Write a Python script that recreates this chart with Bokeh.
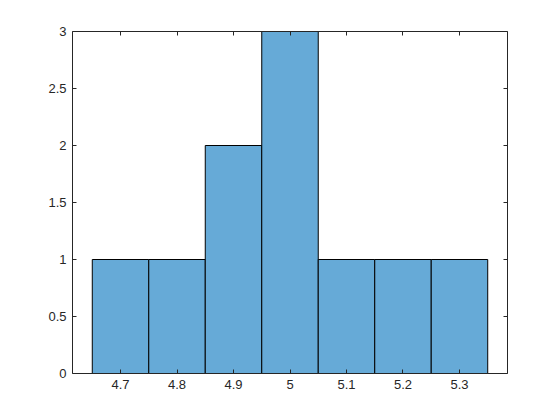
from bokeh.plotting import figure
from bokeh.models import LinearAxis, Range1d, FixedTicker
from bokeh.embed import file_html
from bokeh.resources import INLINE

bin_edges = [4.65, 4.75, 4.85, 4.95, 5.05, 5.15, 5.25, 5.35]
counts = [1, 1, 2, 3, 1, 1, 1]
x_ticks = [4.7, 4.8, 4.9, 5.0, 5.1, 5.2, 5.3]
x_labels = ["4.7", "4.8", "4.9", "5", "5.1", "5.2", "5.3"]
y_ticks = [0, 0.5, 1, 1.5, 2, 2.5, 3]
y_labels = ["0", "0.5", "1", "1.5", "2", "2.5", "3"]

p = figure(width=544, height=404, output_backend="svg", toolbar_location=None,
           x_range=Range1d(4.615, 5.385), y_range=Range1d(0, 3),
           min_border_left=72, min_border_right=37, min_border_top=31, min_border_bottom=31,
           x_axis_location=None, y_axis_location=None)
p.xgrid.visible = False
p.ygrid.visible = False
p.outline_line_color = None
p.background_fill_color = "white"
p.border_fill_color = "white"

p.quad(left=bin_edges[:-1], right=bin_edges[1:], bottom=0, top=counts,
       fill_color="#66AAD7", line_color="black", line_width=1)

ax_col = "#262626"

def style(ax, labels):
    ax.axis_line_color = ax_col
    ax.axis_line_width = 1
    ax.major_tick_line_color = ax_col
    ax.major_tick_in = 4
    ax.major_tick_out = 0
    ax.minor_tick_line_color = None
    ax.major_label_text_font = "Liberation Sans"
    ax.major_label_text_font_size = "13px"
    ax.major_label_text_color = ax_col
    if not labels:
        ax.major_label_text_alpha = 0
        ax.major_label_text_font_size = "1px"
        ax.major_label_standoff = 0

xb = LinearAxis(ticker=FixedTicker(ticks=x_ticks),
                major_label_overrides={t: l for t, l in zip(x_ticks, x_labels)})
style(xb, True)
xb.major_label_standoff = 6
p.add_layout(xb, "below")

xt = LinearAxis(ticker=FixedTicker(ticks=x_ticks))
style(xt, False)
p.add_layout(xt, "above")

yl = LinearAxis(ticker=FixedTicker(ticks=y_ticks),
                major_label_overrides={t: l for t, l in zip(y_ticks, y_labels)})
style(yl, True)
yl.major_label_standoff = 6
p.add_layout(yl, "left")

yr = LinearAxis(ticker=FixedTicker(ticks=y_ticks))
style(yr, False)
p.add_layout(yr, "right")

open("out.html", "w").write(file_html(p, INLINE))
